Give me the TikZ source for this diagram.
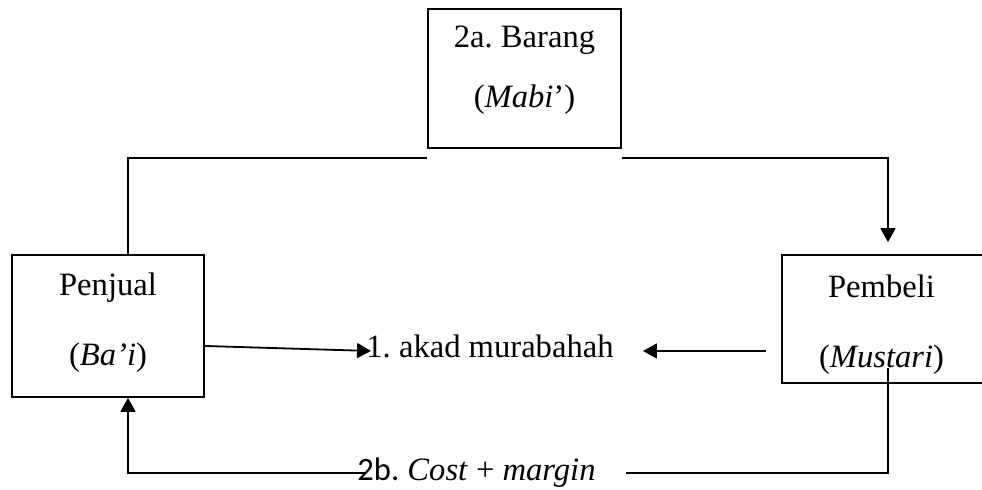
\documentclass[tikz,border=0pt]{standalone}
\usepackage{fontspec}
\setmainfont{Liberation Serif}
\newfontfamily\calibri{Carlito}
\usetikzlibrary{arrows.meta, positioning}
\tikzstyle{box}=[rectangle, draw=black, line width=0.9pt, inner sep=0pt]
\tikzstyle{boxText}=[align=center, inner sep=0pt]
\tikzstyle{line}=[line width=0.9pt, draw=black]
\tikzstyle{arrow}=[-{Triangle[length=7pt, width=7.5pt]}, line width=0.9pt, draw=black]
\frenchspacing
\begin{document}
\begin{tikzpicture}[x=0.5pt, y=0.5pt, font=\fontsize{16.3}{19}\selectfont]
      \useasboundingbox (0,0) rectangle (982,490);
      \node(barang) [box, minimum width=96.5pt, minimum height=69.5pt] at (524.5,411.5) {};
      \node(barangText) [boxText, font=\fontsize{16.3}{30}\selectfont] at (524.5,420)
      {2a. Barang\\(\textit{Mabi}’)};
      \node(penjual) [box, minimum width=96pt, minimum height=71pt] at (108,164) {};
      \node(penjualText) [boxText, font=\fontsize{16.3}{35}\selectfont] at (108,167.5)
      {Penjual\\(\textit{Ba’i})};
      \node(pembeli) [box, minimum width=105pt, minimum height=64pt] at (887,171) {};
      \node(pembeliText) [boxText, font=\fontsize{16.3}{35}\selectfont] at (881.5,165.5)
      {Pembeli\\(\textit{Mustari})};
      \node(akad) [boxText] at (490,144) {1. akad murabahah};
      \node(cost) [boxText] at (476.5,17.5) {{\calibri 2b.} \textit{Cost} + \textit{margin}};
      \draw [line] ([xshift=10pt]penjual.north) |- ([yshift=-4.5pt]barang.south west);
      \draw [arrow, shorten >=6pt] ([yshift=-4.5pt]barang.south east) -| ([xshift=0.5pt]pembeli.north);
      \coordinate (akadIn) at ([xshift=2.5pt, yshift=-2.5pt]akad.west);
      \coordinate (akadOut) at ([yshift=-2.5pt]akad.east);
      \draw [arrow] ([yshift=-10pt]penjual.east) -- (akadIn);
      \draw [arrow, shorten <=7.5pt, shorten >=14.5pt] (pembeli.west |- akadOut) -- (akadOut);
      \draw [line] ([xshift=0.5pt, yshift=8pt]pembeli.south) |- ([xshift=15pt, yshift=-0.3pt]cost.east);
      \draw [arrow] ([xshift=4pt, yshift=-0.3pt]cost.west) -| ([xshift=10pt]penjual.south);
    \end{tikzpicture}
\end{document}
